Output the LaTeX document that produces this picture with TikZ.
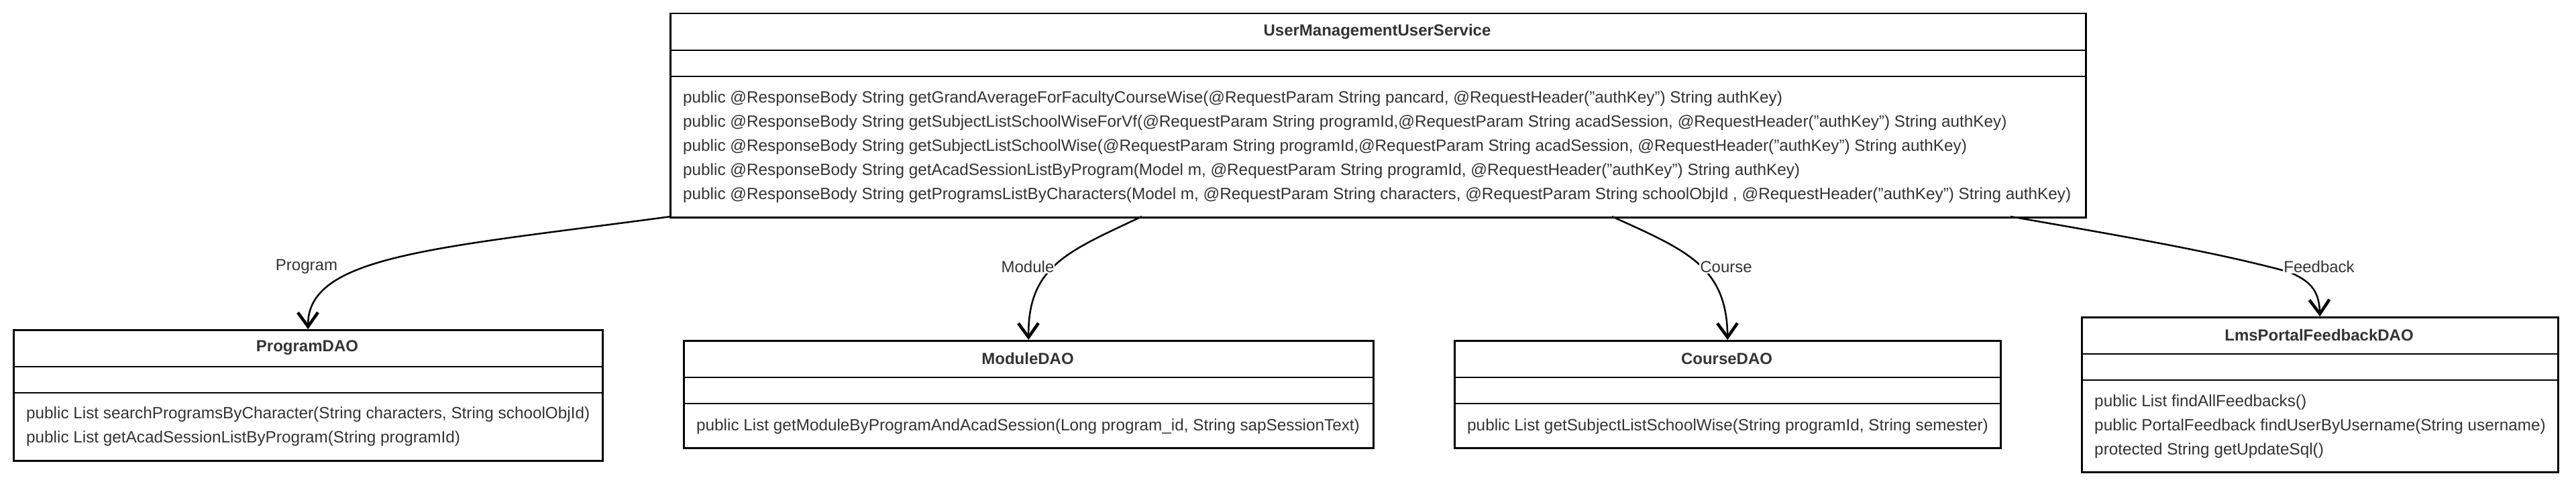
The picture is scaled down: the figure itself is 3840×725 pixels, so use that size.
\documentclass[tikz,border=0pt]{standalone}
\usepackage{fontspec}
\setmainfont{Liberation Sans}
\usetikzlibrary{arrows.meta}
\definecolor{txt}{HTML}{333333}
\begin{document}
\begin{tikzpicture}[x=1pt,y=-1pt,
  box/.style={draw=black, line width=2.5pt, anchor=north west, inner sep=0pt},
  ttl/.style={font=\bfseries\fontsize{24}{29}\selectfont, text=txt, inner sep=0pt},
  mth/.style={font=\fontsize{24.3}{36}\selectfont, text=txt, align=left, inner sep=0pt, anchor=west},
  sepline/.style={draw=black, line width=2.5pt},
  conn/.style={draw=black, line width=2.5pt, -{Straight Barb[length=21pt,width=30pt,line width=4.5pt]}},
  lbl/.style={font=\fontsize{24}{29}\selectfont, text=txt, fill=white, inner sep=1pt}
]
\useasboundingbox[fill=white] (0,0) rectangle (3840,725);

% ---- UserManagementUserService
\node[box, minimum width=2110pt, minimum height=304pt] (main) at (998,19) {};
\node[ttl] (mainT) at (2053,47) {UserManagementUserService};
\draw[sepline] ([yshift=-56pt]main.north west) -- ([yshift=-56pt]main.north east);
\draw[sepline] ([yshift=-95pt]main.north west) -- ([yshift=-95pt]main.north east);
\node[mth] (mainM) at (1018,219) {public @ResponseBody String getGrandAverageForFacultyCourseWise(@RequestParam String pancard, @RequestHeader("authKey") String authKey)\\
public @ResponseBody String getSubjectListSchoolWiseForVf(@RequestParam String programId,@RequestParam String acadSession, @RequestHeader("authKey") String authKey)\\
public @ResponseBody String getSubjectListSchoolWise(@RequestParam String programId,@RequestParam String acadSession, @RequestHeader("authKey") String authKey)\\
public @ResponseBody String getAcadSessionListByProgram(Model m, @RequestParam String programId, @RequestHeader("authKey") String authKey)\\
public @ResponseBody String getProgramsListByCharacters(Model m, @RequestParam String characters, @RequestParam String schoolObjId , @RequestHeader("authKey") String authKey)};

% ---- ProgramDAO
\node[box, minimum width=878pt, minimum height=195pt] (prog) at (19,491) {};
\node[ttl] (progT) at (458,519) {ProgramDAO};
\draw[sepline] ([yshift=-56pt]prog.north west) -- ([yshift=-56pt]prog.north east);
\draw[sepline] ([yshift=-95pt]prog.north west) -- ([yshift=-95pt]prog.north east);
\node[mth] (progM) at (39,636) {public List searchProgramsByCharacter(String characters, String schoolObjId)\\
public List getAcadSessionListByProgram(String programId)};

% ---- ModuleDAO
\node[box, minimum width=1028pt, minimum height=160pt] (mod) at (1018,507) {};
\node[ttl] (modT) at (1532,535) {ModuleDAO};
\draw[sepline] ([yshift=-56pt]mod.north west) -- ([yshift=-56pt]mod.north east);
\draw[sepline] ([yshift=-95pt]mod.north west) -- ([yshift=-95pt]mod.north east);
\node[mth] (modM) at (1038,636) {public List getModuleByProgramAndAcadSession(Long program\_id, String sapSessionText)};

% ---- CourseDAO
\node[box, minimum width=814pt, minimum height=160pt] (course) at (2167,507) {};
\node[ttl] (courseT) at (2574,535) {CourseDAO};
\draw[sepline] ([yshift=-56pt]course.north west) -- ([yshift=-56pt]course.north east);
\draw[sepline] ([yshift=-95pt]course.north west) -- ([yshift=-95pt]course.north east);
\node[mth] (courseM) at (2187,636) {public List getSubjectListSchoolWise(String programId, String semester)};

% ---- LmsPortalFeedbackDAO
\node[box, minimum width=710pt, minimum height=231pt] (lms) at (3102,472) {};
\node[ttl] (lmsT) at (3457,500) {LmsPortalFeedbackDAO};
\draw[sepline] ([yshift=-56pt]lms.north west) -- ([yshift=-56pt]lms.north east);
\draw[sepline] ([yshift=-95pt]lms.north west) -- ([yshift=-95pt]lms.north east);
\node[mth] (lmsM) at (3122,636) {public List findAllFeedbacks()\\
public PortalFeedback findUserByUsername(String username)\\
protected String getUpdateSql()};

% ---- connectors
\coordinate (sP) at (1000,323);
\coordinate (sM) at (1702,323);
\coordinate (sC) at (2403,323);
\coordinate (sF) at (2997,323);
\coordinate (fB) at (3413,406);

\draw[conn] (sP) .. controls (650,370) and (458,381) .. (prog.north);
\draw[conn] (sM) .. controls (1592,375) and (1532,397) .. (mod.north);
\draw[conn] (sC) .. controls (2513,373) and (2574,397) .. (course.north);
\draw[conn] (sF) .. controls (3150,350) and (3300,375) .. (fB) .. controls (3440,418) and (3457,430) .. (lms.north);

\node[lbl] (lP) at (457,398) {Program};
\node[lbl] (lM) at (1532,398) {Module};
\node[lbl] (lC) at (2573,398) {Course};
\node[lbl] (lF) at (3457,398) {Feedback};
\end{tikzpicture}
\end{document}
